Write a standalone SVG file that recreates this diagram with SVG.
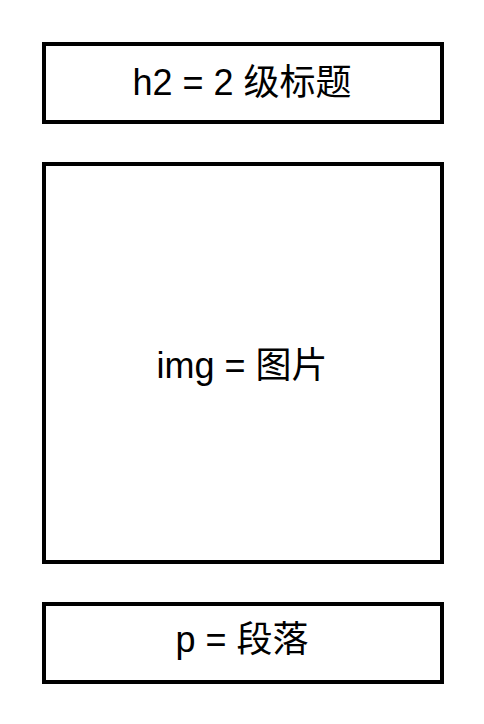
<svg xmlns="http://www.w3.org/2000/svg" width="484" height="724" viewBox="0 0 484 724">
<style>
.box{fill:#fff;stroke:#000;stroke-width:4}
.lbl{font-family:"Liberation Sans","Noto Sans CJK SC",sans-serif;font-size:36px;fill:#000;text-anchor:middle}
</style>
<rect width="484" height="724" fill="#fff"/>
<g id="h2">
<rect class="box" x="44" y="44" width="398" height="78"/>
<text class="lbl" x="242" y="95">h2 = 2 级标题</text>
</g>
<g id="img">
<rect class="box" x="44" y="164" width="398" height="398"/>
<text class="lbl" x="242" y="378">img = 图片</text>
</g>
<g id="p">
<rect class="box" x="44" y="604" width="398" height="78"/>
<text class="lbl" x="242" y="652">p = 段落</text>
</g>
<g id="connectors"></g>
</svg>
